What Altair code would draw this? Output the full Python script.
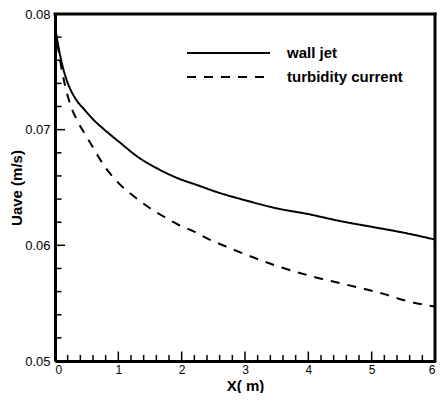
import altair as alt
import pandas as pd

# ---- data ----
wall_x = [0.0, 0.06, 0.11, 0.19, 0.31, 0.47, 0.60, 0.78, 1.0, 1.32, 1.63, 1.94, 2.25, 2.56, 3.0,
          3.5, 4.0, 4.5, 5.0, 5.5, 6.0]
wall_y = [0.0789, 0.0770, 0.0757, 0.0742, 0.0728, 0.0717, 0.0709, 0.0700, 0.0690, 0.0676, 0.0666,
          0.0658, 0.0652, 0.0646, 0.0639, 0.0632, 0.0627, 0.0621, 0.0616, 0.0611, 0.0605]

turb_x = [0.0, 0.03, 0.08, 0.16, 0.24, 0.37, 0.52, 0.67, 0.80, 1.0, 1.21, 1.45, 1.68, 1.94, 2.19,
          2.44, 2.70, 2.97, 3.46, 4.0, 4.6, 5.19, 5.48, 6.0]
turb_y = [0.0789, 0.0778, 0.0760, 0.0738, 0.0722, 0.0706, 0.0692, 0.0678, 0.0667, 0.0654, 0.0644,
          0.0634, 0.0626, 0.0618, 0.0612, 0.0605, 0.0599, 0.0593, 0.0583, 0.0574, 0.0566, 0.0558,
          0.0553, 0.0547]

series_names = ["wall jet", "turbidity current"]

x_major = [0, 1, 2, 3, 4, 5, 6]
x_minor = [round(i * 0.2, 1) for i in range(31) if i % 5 != 0]
y_major = [0.05, 0.06, 0.07, 0.08]
y_minor = [round(0.05 + i * 0.002, 3) for i in range(16) if i % 5 != 0]

W, H = 380, 347
FONT = "Liberation Sans"

df = pd.concat([
    pd.DataFrame({"x": wall_x, "y": wall_y, "series": series_names[0], "order": range(len(wall_x))}),
    pd.DataFrame({"x": turb_x, "y": turb_y, "series": series_names[1], "order": range(len(turb_x))}),
])

xscale = alt.Scale(domain=[0, 6], nice=False, zero=False)
yscale = alt.Scale(domain=[0.05, 0.08], nice=False, zero=False)

lines = alt.Chart(df).mark_line(color="black", strokeWidth=2, clip=True, interpolate="monotone").encode(
    x=alt.X("x:Q", scale=xscale, title="X( m)",
            axis=alt.Axis(values=x_major, format="d", ticks=False, domain=True, domainColor="black",
                          domainWidth=3, grid=False,
                          labelFont=FONT, labelFontSize=12, labelColor="black", labelPadding=3,
                          titleFont=FONT, titleFontSize=15, titleFontWeight="bold", titleColor="black",
                          titleX=W / 2, titleY=29, titleBaseline="alphabetic")),
    y=alt.Y("y:Q", scale=yscale, title="Uave (m/s)",
            axis=alt.Axis(values=y_major, format=".2f", ticks=False, domain=True, domainColor="black",
                          domainWidth=3, grid=False,
                          labelFont=FONT, labelFontSize=13, labelColor="black", labelPadding=5,
                          titleFont=FONT, titleFontSize=15, titleFontWeight="bold", titleColor="black",
                          titleAngle=270, titleBaseline="bottom", titleAlign="center",
                          titleX=-31, titleY=H / 2)),
    strokeDash=alt.StrokeDash("series:N",
                              scale=alt.Scale(domain=series_names, range=[[1, 0], [9, 8]]),
                              sort=series_names,
                              legend=alt.Legend(title=None, orient="none", legendX=131, legendY=28,
                                                symbolType="stroke", symbolSize=6889,
                                                symbolStrokeColor="black", symbolStrokeWidth=2,
                                                clipHeight=22, rowPadding=2, labelOffset=16,
                                                labelFont=FONT, labelFontSize=15, labelFontWeight="bold",
                                                labelColor="black", padding=0)),
    order="order:Q",
)

xmaj = pd.DataFrame({"v": x_major})
xmin = pd.DataFrame({"v": x_minor})
ymaj = pd.DataFrame({"v": y_major})
ymin = pd.DataFrame({"v": y_minor})

def xt(d, ln):
    return alt.Chart(d).mark_rule(color="black", strokeWidth=1.5).encode(
        x=alt.X("v:Q", scale=xscale), y=alt.value(H), y2=alt.value(H - ln))

def yt(d, ln):
    return alt.Chart(d).mark_rule(color="black", strokeWidth=1.5).encode(
        y=alt.Y("v:Q", scale=yscale), x=alt.value(0), x2=alt.value(ln))

one = pd.DataFrame({"f": [0]})
top_edge = alt.Chart(one).mark_rule(color="black", strokeWidth=3, strokeCap="square").encode(
    x=alt.value(0), x2=alt.value(W), y=alt.value(0))
right_edge = alt.Chart(one).mark_rule(color="black", strokeWidth=3, strokeCap="square").encode(
    x=alt.value(W), y=alt.value(0), y2=alt.value(H))

chart = alt.layer(lines, xt(xmaj, 9.5), xt(xmin, 6), yt(ymaj, 10), yt(ymin, 6.5),
                  top_edge, right_edge).properties(
    width=W, height=H,
    background="white",
    autosize=alt.AutoSizeParams(type="none"),
    padding={"left": 47, "top": 6, "right": 2, "bottom": 32},
).configure_view(strokeWidth=0)

chart.save("out.html", embed_options={"renderer": "svg", "actions": False})
